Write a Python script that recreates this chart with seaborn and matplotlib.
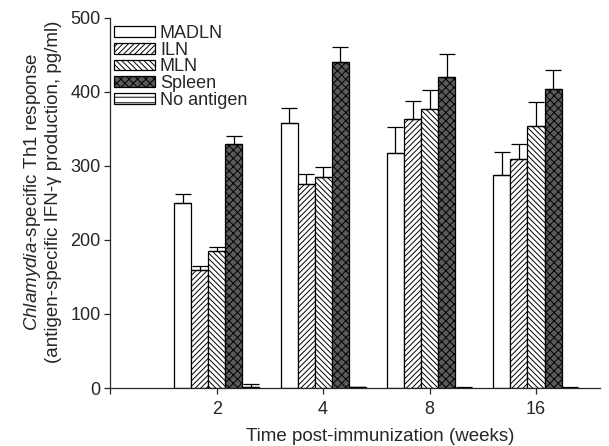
import numpy as np
import pandas as pd
import matplotlib
matplotlib.use('Agg')
import matplotlib.pyplot as plt
import matplotlib.patches as mpatches
import seaborn as sns

# Data
weeks = ['2', '4', '8', '16']
groups = ['MADLN', 'ILN', 'MLN', 'Spleen', 'No antigen']
madln = [250, 358, 318, 288]
iln = [160, 275, 364, 309]
mln = [185, 285, 377, 354]
spleen = [330, 440, 420, 404]
no_antigen = [2, 1, 0.5, 0.5]
madln_err = [12, 20, 34, 31]
iln_err = [5, 14, 24, 21]
mln_err = [5, 14, 25, 32]
spleen_err = [10, 20, 31, 26]
no_antigen_err = [3, 1, 0.5, 0.5]

values = [madln, iln, mln, spleen, no_antigen]
errors = [madln_err, iln_err, mln_err, spleen_err, no_antigen_err]
hatches = ['', '//////', '\\\\\\\\\\\\', 'xxxx', '---']

df = pd.DataFrame({
    'week': np.tile(weeks, len(groups)),
    'group': np.repeat(groups, len(weeks)),
    'value': np.concatenate(values),
})

sns.set_style('ticks')
plt.rcParams['font.family'] = ['Liberation Sans', 'DejaVu Sans']
plt.rcParams['mathtext.fontset'] = 'custom'
plt.rcParams['mathtext.it'] = 'Liberation Sans:italic'
plt.rcParams['mathtext.rm'] = 'Liberation Sans'
plt.rcParams['hatch.linewidth'] = 0.7


def style_patch(p, i):
    p.set_hatch(hatches[i])
    if i == 3:
        p.set_facecolor('#5a5a5a')


fig = plt.figure(figsize=(6.09, 4.46), dpi=100)
ax = fig.add_axes([0.181, 0.130, 0.804, 0.830])

sns.barplot(data=df, x='week', y='value', hue='group', order=weeks,
            hue_order=groups, palette=['white'] * 5, edgecolor='black',
            linewidth=0.9, width=0.8, errorbar=None, legend=False, ax=ax)

for i, (cont, err) in enumerate(zip(ax.containers, errors)):
    xs, ys = [], []
    for p in cont.patches:
        style_patch(p, i)
        xs.append(p.get_x() + p.get_width() / 2)
        ys.append(p.get_height())
    ax.errorbar(xs, ys, yerr=[np.zeros(len(err)), err], fmt='none',
                ecolor='black', elinewidth=0.9, capsize=6, capthick=0.9)

handles = []
for i in range(len(groups)):
    h = mpatches.Patch(facecolor='white', edgecolor='black', linewidth=0.9)
    style_patch(h, i)
    handles.append(h)

ax.legend(handles, groups, loc='upper left', bbox_to_anchor=(0.0, 0.99),
          frameon=False, fontsize=13, handlelength=2.3, handleheight=0.55,
          handletextpad=0.25, labelspacing=-0.02, borderaxespad=0.1,
          borderpad=0.1)

ax.set_xlim(-1, 3.6)
ax.set_ylim(0, 500)
ax.set_yticks([0, 100, 200, 300, 400, 500])
ax.set_xticks([-1], minor=True)
ax.tick_params(axis='both', labelsize=13, direction='out', length=4, width=0.9,
               pad=3)
ax.tick_params(axis='x', pad=5)
ax.tick_params(axis='x', which='minor', length=4, width=0.9)
sns.despine(ax=ax)
for s in ['left', 'bottom']:
    ax.spines[s].set_linewidth(0.9)

ax.set_xlabel('Time post-immunization (weeks)', fontsize=13.5)
ax.xaxis.set_label_coords(0.551, -0.108)
ax.set_ylabel('$\\it{Chlamydia}$-specific Th1 response\n'
              '(antigen-specific IFN-\u03b3 production, pg/ml)', fontsize=13.5,
              linespacing=1.15)
ax.yaxis.set_label_coords(-0.098, 0.53)

fig.savefig('out.png', dpi=100)
